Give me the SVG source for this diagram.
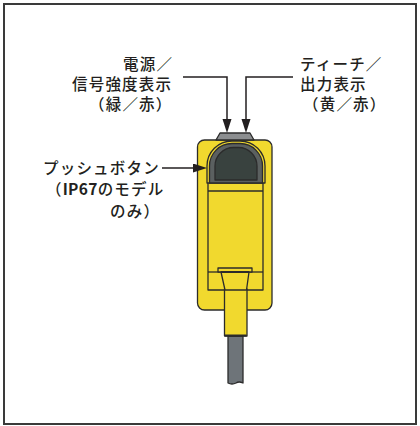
<svg xmlns="http://www.w3.org/2000/svg" width="420" height="426" viewBox="0 0 420 426">
  <style>
    .lbl { font-family: "Noto Sans CJK JP", "Noto Sans", sans-serif; font-size: 15.5px; font-weight: 500; letter-spacing: 1.2px; fill: #231f20; }
    .lead { fill: none; stroke: #231f20; stroke-width: 1.5; }
    .ol { stroke: #2b2b2b; stroke-width: 1.3; stroke-linejoin: round; }
    .yel { fill: #f1d92e; }
  </style>
  <defs>
    <marker id="arrowhead" markerUnits="userSpaceOnUse" markerWidth="15" markerHeight="10" viewBox="0 0 15 10" refX="1" refY="4.5" orient="auto">
      <path d="M0,0 L14,4.5 L0,9 Z" fill="#231f20"/>
    </marker>
  </defs>

  <!-- outer frame -->
  <rect x="4" y="4" width="412" height="420" fill="#ffffff" stroke="#3a3a3a" stroke-width="2"/>

  <!-- sensor body -->
  <g id="sensor">
    <!-- cable -->
    <path class="ol" d="M228,336 H243 V383 Q239,381 236,383 Q232,385 228,383 Z" fill="#6e7479"/>
    <!-- housing -->
    <rect class="ol yel" x="197.5" y="140" width="74.5" height="170" rx="7"/>
    <!-- indicator cap -->
    <polygon class="ol" points="220,133 250,133 254,140 216,140" fill="#8c8e90"/>
    <!-- front panel -->
    <rect class="ol yel" x="208" y="182" width="55" height="108"/>
    <line class="ol" x1="208" y1="191" x2="263" y2="191"/>
    <line class="ol" x1="208" y1="272" x2="221" y2="272"/>
    <line class="ol" x1="249" y1="272" x2="263" y2="272"/>
    <!-- plug -->
    <rect class="ol yel" x="224.5" y="289" width="22.5" height="47"/>
    <line x1="225" y1="335.5" x2="246.5" y2="335.5" stroke="#2b2b2b" stroke-width="2"/>
    <!-- connector collar -->
    <rect class="ol yel" x="218" y="268" width="34" height="4"/>
    <polygon class="ol yel" points="221,272 249,272 246.5,290 225,290"/>
    <line x1="221" y1="272" x2="249" y2="272" stroke="#2b2b2b" stroke-width="2"/>
    <!-- push button -->
    <path class="ol yel" d="M207,183 V166 A25,25 0 0 1 232,141 H240 A25,25 0 0 1 265,166 V183 Z"/>
    <path class="ol" d="M209.5,183 V166 A22.5,22.5 0 0 1 232,143.5 H240 A22.5,22.5 0 0 1 262.5,166 V183 Z" fill="#5b6060"/>
    <path class="ol" d="M215,180 V166 A18.5,18.5 0 0 1 233.5,147.5 H238.5 A18.5,18.5 0 0 1 257,166 V180 Z" fill="#39423f"/>
  </g>

  <!-- leader lines -->
  <g id="connectors">
    <polyline class="lead" points="183,77 227,77 227,120" marker-end="url(#arrowhead)"/>
    <polyline class="lead" points="293,77 246,77 246,120" marker-end="url(#arrowhead)"/>
    <polyline class="lead" points="162,168 194,168" marker-end="url(#arrowhead)"/>
  </g>

  <g id="label-power">
    <text class="lbl" x="123" y="70">電源／</text>
    <text class="lbl" x="72" y="90">信号強度表示</text>
    <text class="lbl" x="89" y="110">（緑／赤）</text>
  </g>

  <g id="label-teach">
    <text class="lbl" x="300" y="70">ティーチ／</text>
    <text class="lbl" x="300" y="90">出力表示</text>
    <text class="lbl" x="303" y="110">（黄／赤）</text>
  </g>

  <g id="label-button">
    <text class="lbl" x="43" y="174">プッシュボタン</text>
    <text class="lbl" x="46" y="195">（<tspan font-weight="bold" letter-spacing="0.3">IP67</tspan>のモデル</text>
    <text class="lbl" x="110" y="217">のみ）</text>
  </g>
</svg>
